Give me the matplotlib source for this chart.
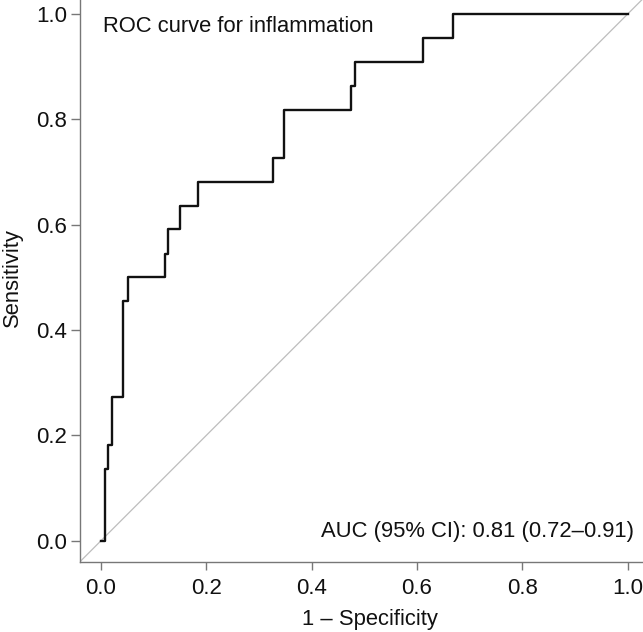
import matplotlib
matplotlib.use("Agg")
import matplotlib.pyplot as plt

# ROC breakpoints (1 - specificity, sensitivity)
fpr = [0.0, 0.008, 0.013, 0.021, 0.042, 0.052, 0.122, 0.127, 0.150,
       0.185, 0.326, 0.348, 0.475, 0.482, 0.612, 0.669, 1.0]
tpr = [0.0, 0.136, 0.182, 0.273, 0.455, 0.500, 0.545, 0.591, 0.636,
       0.682, 0.727, 0.818, 0.864, 0.909, 0.955, 1.0, 1.0]
ticks = [0.0, 0.2, 0.4, 0.6, 0.8, 1.0]
tick_labels = ["0.0", "0.2", "0.4", "0.6", "0.8", "1.0"]

plt.rcParams["font.family"] = ["Liberation Sans", "DejaVu Sans"]
W, H = 643, 632
FS = 15.8
fig = plt.figure(figsize=(W / 100, H / 100), dpi=100)

# axes box (R style, 4% padding); right/top edges run past the canvas
x0, y0 = 80, 561.7          # left spine x, bottom spine y (pixels)
unit = 526.5                # pixels per 1.0 data unit
span = 1.08 * unit
ax = fig.add_axes([x0 / W, (H - y0) / H, span / W, span / H])
ax.set_xlim(-0.04, 1.04)
ax.set_ylim(-0.04, 1.04)

ax.axline((0, 0), (1, 1), color="#bdbdbd", lw=0.9, zorder=1)
ax.step(fpr, tpr, where="post", color="#111111", lw=1.7, zorder=2)

ax.text(0.003, 0.976, "ROC curve for inflammation", fontsize=FS,
        ha="left", va="center", color="#111111")
ax.text(1.012, 0.018, "AUC (95% CI): 0.81 (0.72\u20130.91)", fontsize=FS,
        ha="right", va="center", color="#111111")

for side in ("top", "right"):
    ax.spines[side].set_visible(False)
for side in ("left", "bottom"):
    ax.spines[side].set_color("#777777")
    ax.spines[side].set_linewidth(1.0)

ax.set_xticks(ticks)
ax.set_xticklabels(tick_labels)
ax.set_yticks(ticks)
ax.set_yticklabels(tick_labels)
ax.tick_params(axis="x", length=6, width=1.0, color="#777777", pad=5.5,
               labelsize=16, labelcolor="#111111")
ax.tick_params(axis="y", length=6.5, width=1.0, color="#777777", pad=3,
               labelsize=16, labelcolor="#111111")

fig.text(370 / W, 1 - 620 / H, "1 \u2013 Specificity", fontsize=FS,
         ha="center", va="center", color="#111111")
fig.text(12 / W, 1 - 278 / H, "Sensitivity", fontsize=FS, rotation=90,
         ha="center", va="center", color="#111111")

fig.savefig("out.png", dpi=100)
